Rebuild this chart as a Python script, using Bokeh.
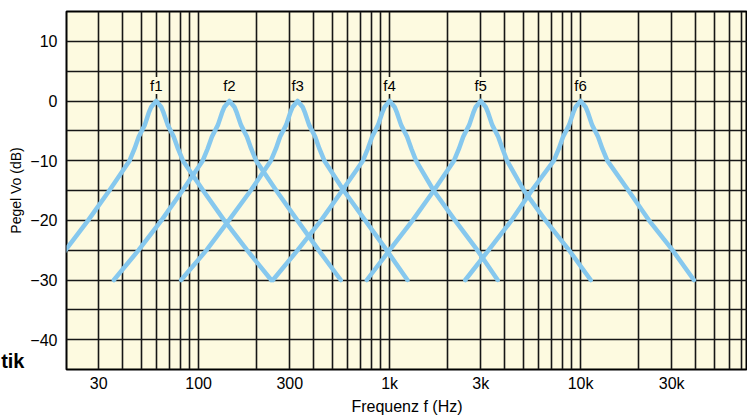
from bokeh.plotting import figure
from bokeh.models import Range1d, FixedTicker, ColumnDataSource, LabelSet, LinearAxis
from bokeh.core.properties import value
from bokeh.embed import file_html
from bokeh.resources import INLINE

# ---- data ----
DB_LEVELS = [-30, -25, -20, -15, -10, -8, -6, -4, -2, -1, 0, -1, -2, -4, -6, -8, -10, -15, -20, -25, -30]
F1_HZ = [15.2, 20.1, 26.4, 34.1, 43.5, 46.2, 48.6, 52.3, 54.8, 56.5, 60, 63.7, 65.6, 68.9, 74.1, 78.0, 82.8, 105.6, 136.2, 179.4, 240]
F2_HZ = [36, 48.5, 63.9, 82.4, 105.1, 111.5, 117.4, 126.3, 132.5, 136.5, 145, 154.0, 158.6, 166.5, 179.1, 188.5, 200.1, 255, 329, 425, 555]
F3_HZ = [81, 110, 144, 187.5, 239, 254, 267, 287.5, 301.6, 310.7, 330, 350.5, 361, 378.8, 407.6, 429, 455.4, 575, 745, 965, 1240]
F4_HZ = [245, 330, 438, 565, 725, 769, 810, 871, 914, 942, 1000, 1062, 1094, 1148, 1235, 1300, 1375, 1700, 2200, 2880, 3680]
F5_HZ = [760, 1000, 1320, 1705, 2174, 2308, 2429, 2613, 2742, 2825, 3000, 3186, 3282, 3444, 3705, 3900, 4120, 5050, 6550, 8700, 11300]
F6_HZ = [2490, 3300, 4350, 5550, 7246, 7692, 8097, 8711, 9141, 9416, 10000, 10620, 10940, 11480, 12350, 13000, 13800, 17800, 22800, 30300, 39200]
CURVES = [F1_HZ, F2_HZ, F3_HZ, F4_HZ, F5_HZ, F6_HZ]

PEAK_NAMES = ["f1", "f2", "f3", "f4", "f5", "f6"]
PEAK_HZ = [60, 145, 330, 1000, 3000, 10000]

X_TICKS = [30, 100, 300, 1000, 3000, 10000, 30000]
X_TICK_LABELS = ["30", "100", "300", "1k", "3k", "10k", "30k"]
Y_TICKS = [-40, -30, -20, -10, 0, 10]

# cropped fragment of a caption at the left edge of the reference
CAPTION_TEXT = "tik"
CAPTION_DB = -43.5

# ---- styling ----
CREAM = "#fdfae0"
BLUE = "#86c8ee"
GRID = "#161616"
FONT = "Liberation Sans"

p = figure(width=747, height=417, x_axis_type="log",
           x_range=Range1d(20.34, 74800), y_range=Range1d(-45, 15),
           output_backend="svg", toolbar_location=None,
           min_border_left=66, min_border_right=0, min_border_top=11, min_border_bottom=45)

p.background_fill_color = CREAM
p.border_fill_color = "white"
p.outline_line_color = "black"
p.outline_line_width = 2

grid_x = [m * 10 ** e for e in range(1, 5) for m in range(1, 10)]
p.xgrid.ticker = FixedTicker(ticks=grid_x)
p.ygrid.ticker = FixedTicker(ticks=list(range(-45, 16, 5)))
for g in (p.xgrid, p.ygrid):
    g.grid_line_color = GRID
    g.grid_line_width = 1.6
    g.grid_line_alpha = 1.0

p.xaxis.ticker = FixedTicker(ticks=X_TICKS)
p.xaxis.major_label_overrides = {t: lab for t, lab in zip(X_TICKS, X_TICK_LABELS)}
p.yaxis.ticker = FixedTicker(ticks=Y_TICKS)


def style_axis(ax):
    ax.axis_line_color = None
    ax.major_tick_line_color = None
    ax.minor_tick_line_color = None
    ax.major_tick_out = 0
    ax.major_tick_in = 0
    ax.major_label_text_font = FONT
    ax.major_label_text_font_size = "16px"
    ax.major_label_text_color = "black"
    ax.axis_label_text_font = FONT
    ax.axis_label_text_font_style = "normal"
    ax.axis_label_text_color = "black"


style_axis(p.xaxis[0])
style_axis(p.yaxis[0])

p.xaxis.major_label_standoff = 5
p.xaxis.axis_label = "Frequenz f (Hz)"
p.xaxis.axis_label_text_font_size = "16px"
p.xaxis.axis_label_standoff = 3
p.yaxis.major_label_standoff = 9

# outer left axis: carries the cropped caption fragment and the y title
outer = LinearAxis(ticker=FixedTicker(ticks=[CAPTION_DB]),
                   major_label_overrides={CAPTION_DB: CAPTION_TEXT})
style_axis(outer)
outer.major_label_text_font_size = "20px"
outer.major_label_text_font_style = "bold"
outer.major_label_standoff = 3
outer.axis_label = "Pegel Vo (dB)"
outer.axis_label_text_font_size = "14px"
outer.axis_label_standoff = -26
p.add_layout(outer, "left")

for fr in CURVES:
    src = ColumnDataSource(dict(f=fr, db=DB_LEVELS))
    p.line(x="f", y="db", source=src, line_color=BLUE, line_width=4.5,
           line_join="round", line_cap="round")

lab_src = ColumnDataSource(dict(x=PEAK_HZ, y=[2.6] * len(PEAK_HZ), name=PEAK_NAMES))
p.add_layout(LabelSet(x="x", y="y", text="name", source=lab_src,
                      text_align="center", text_baseline="middle",
                      text_font=value(FONT), text_font_size="15px", text_color="black",
                      background_fill_color=CREAM))

open("out.html", "w").write(file_html(p, INLINE))
